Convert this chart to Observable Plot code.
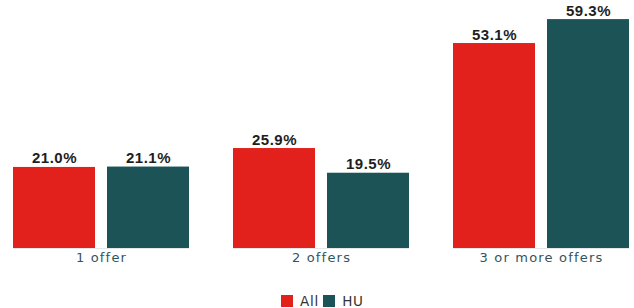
<!DOCTYPE html>
<html>
<head>
<meta charset="utf-8">
<script src="https://cdn.jsdelivr.net/npm/d3@7"></script>
<script src="https://cdn.jsdelivr.net/npm/@observablehq/plot@0.6"></script>
<style>
  html, body { margin: 0; padding: 0; background: #fff; }
  #chart { width: 634px; height: 284px; }
  #legend { position: relative; width: 634px; height: 24px; font-family: "DejaVu Sans", sans-serif; font-size: 13.5px; color: #333; letter-spacing: 0.8px; }
  #legend .items { position: absolute; left: 281px; top: 9px; display: flex; align-items: center; }
  #legend .sw { width: 12px; height: 12px; display: inline-block; margin-right: 7px; }
  #legend .item { display: flex; align-items: center; margin-right: 4px; }
</style>
</head>
<body>
<div id="chart"></div>
<div id="legend"><div class="items"></div></div>
<script>
const categories = ["1 offer", "2 offers", "3 or more offers"];
const series = ["All", "HU"];
const allValues = [21.0, 25.9, 53.1];
const huValues = [21.1, 19.5, 59.3];
const colors = ["#e2211d", "#1b5356"];

const data = [];
categories.forEach((c, i) => {
  data.push({category: c, series: "All", value: allValues[i]});
  data.push({category: c, series: "HU", value: huValues[i]});
});

const chart = Plot.plot({
  width: 634,
  height: 284,
  marginLeft: 13,
  marginRight: 5,
  marginTop: 8,
  marginBottom: 36,
  style: {background: "#fff"},
  fx: {domain: categories, paddingInner: 0.2, paddingOuter: 0, label: null, axis: null},
  x: {domain: series, paddingInner: 0.128, paddingOuter: 0, axis: null},
  y: {domain: [0, 240 / 3.86], axis: null},
  color: {domain: series, range: colors},
  marks: [
    Plot.barY(data, {fx: "category", x: "series", y: "value", fill: "series"}),
    Plot.ruleY([0], {stroke: "#e4e8e8", strokeWidth: 1}),
    Plot.text(data, {fx: "category", x: "series", y: "value", text: d => d.value.toFixed(1) + "%",
      lineAnchor: "bottom", dy: -4, fontWeight: "bold", fontSize: 15, fill: "#1e1e1e",
      fontFamily: "Liberation Sans, Arial, sans-serif"}),
    Plot.axisFx({anchor: "bottom", tickSize: 0, tickPadding: 4, label: null,
      fontSize: 13, fontFamily: "DejaVu Sans, sans-serif", fill: "#33545c"})
  ]
});
document.getElementById("chart").appendChild(chart);

chart.querySelectorAll('[aria-label="fx-axis tick label"] text').forEach(t => {
  t.style.letterSpacing = "1.2px";
  t.setAttribute("fill", "#33545c");
});
chart.querySelectorAll('[aria-label="text"] text').forEach(t => {
  t.style.letterSpacing = "0.5px";
});

// legend built from the color scale
const color = chart.scale("color");
const items = document.querySelector("#legend .items");
color.domain.forEach((s, i) => {
  const item = document.createElement("span");
  item.className = "item";
  const sw = document.createElement("span");
  sw.className = "sw";
  sw.style.background = color.range[i];
  item.appendChild(sw);
  item.appendChild(document.createTextNode(s));
  items.appendChild(item);
});
</script>
</body>
</html>
